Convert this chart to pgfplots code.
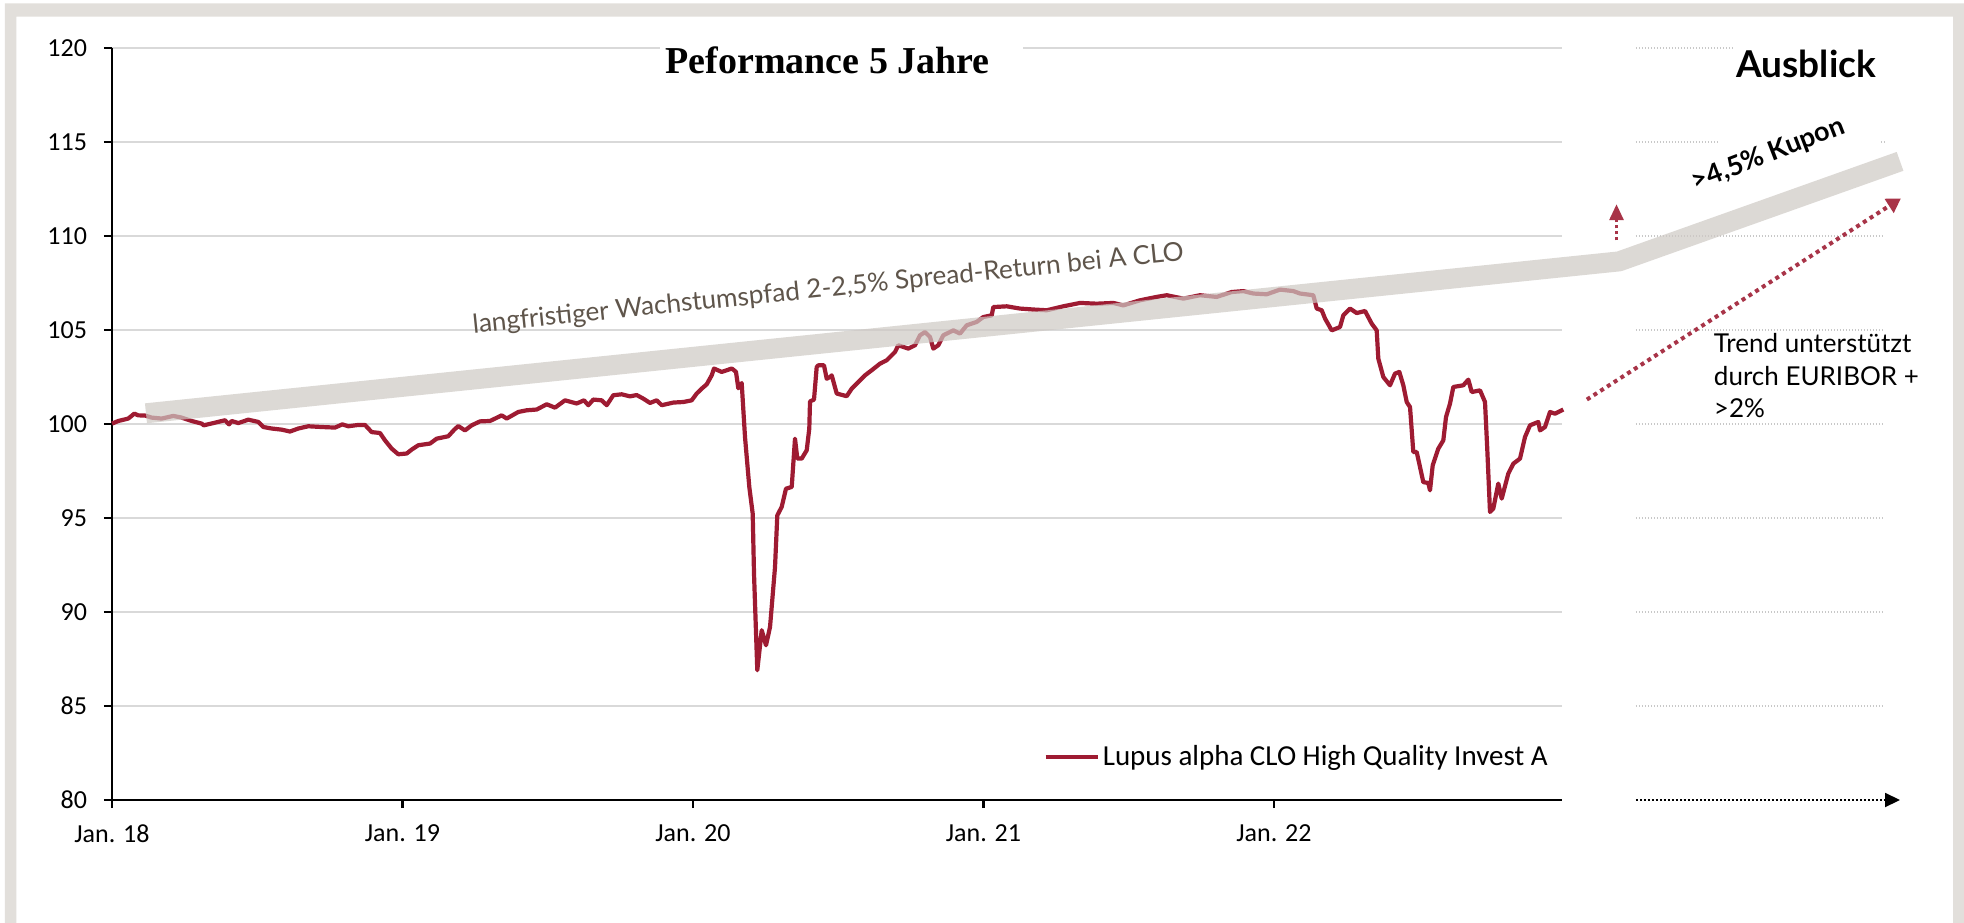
\documentclass[border=0pt]{standalone}
\usepackage{fontspec}
\setmainfont{Carlito}
\newfontfamily\titlefont{Liberation Serif}
\newfontfamily\optfont{Lato}
\usepackage{pgfplots}
\usepackage{pgfplotstable}
\pgfplotsset{compat=1.18}
\usetikzlibrary{arrows.meta}
\definecolor{lupusred}{RGB}{158,27,50}
\definecolor{arrred}{RGB}{168,52,72}
\definecolor{framegrey}{RGB}{226,223,219}
\definecolor{bandgrey}{RGB}{206,201,196}
\definecolor{gridgrey}{RGB}{217,217,217}
\definecolor{dotgrey}{RGB}{200,200,200}
\definecolor{bandtext}{RGB}{95,85,75}

\pgfplotstableread{
x y
0.0000 100.02
0.0217 100.16
0.0561 100.29
0.0768 100.55
0.0905 100.46
0.1136 100.45
0.1367 100.34
0.1711 100.29
0.2110 100.43
0.2399 100.34
0.2744 100.16
0.3088 100.02
0.3157 99.93
0.3546 100.07
0.3890 100.20
0.4028 99.98
0.4120 100.16
0.4348 100.05
0.4692 100.23
0.5036 100.11
0.5208 99.84
0.5497 99.76
0.5842 99.70
0.6127 99.60
0.6413 99.76
0.6757 99.88
0.7219 99.84
0.7676 99.81
0.7928 99.98
0.8134 99.88
0.8478 99.95
0.8709 99.95
0.8940 99.57
0.9225 99.52
0.9398 99.13
0.9628 98.69
0.9855 98.39
1.0145 98.43
1.0317 98.64
1.0544 98.87
1.0947 98.96
1.1177 99.22
1.1577 99.35
1.1783 99.70
1.1921 99.89
1.2151 99.66
1.2382 99.93
1.2668 100.14
1.3012 100.16
1.3415 100.46
1.3587 100.29
1.3986 100.64
1.4275 100.73
1.4620 100.77
1.4964 101.05
1.5250 100.87
1.5594 101.26
1.5997 101.09
1.6248 101.26
1.6396 101.00
1.6568 101.30
1.6857 101.26
1.7029 101.00
1.7256 101.53
1.7546 101.58
1.7831 101.47
1.8062 101.54
1.8289 101.35
1.8520 101.12
1.8750 101.26
1.8923 101.00
1.9322 101.14
1.9666 101.17
1.9955 101.26
2.0127 101.62
2.0299 101.88
2.0472 102.11
2.0644 102.59
2.0723 102.95
2.0988 102.77
2.1332 102.95
2.1387 102.89
2.1480 102.77
2.1559 101.90
2.1676 102.18
2.1790 99.31
2.1938 96.65
2.2055 95.23
2.2100 92.04
2.2213 86.90
2.2365 89.03
2.2513 88.23
2.2651 89.20
2.2823 92.39
2.2902 95.14
2.3053 95.59
2.3201 96.56
2.3398 96.65
2.3511 99.22
2.3591 98.16
2.3742 98.16
2.3914 98.60
2.4003 99.76
2.4028 101.20
2.4165 101.30
2.4258 103.03
2.4313 103.12
2.4509 103.12
2.4602 102.41
2.4716 102.50
2.4775 102.59
2.4947 101.62
2.5291 101.48
2.5463 101.88
2.5749 102.32
2.5921 102.59
2.6152 102.86
2.6437 103.21
2.6668 103.39
2.6954 103.83
2.7067 104.19
2.7411 104.01
2.7642 104.19
2.7814 104.72
2.7986 104.89
2.8158 104.63
2.8272 104.01
2.8444 104.19
2.8616 104.72
2.8961 104.98
2.9191 104.81
2.9422 105.25
2.9766 105.43
2.9993 105.69
3.0282 105.78
3.0338 106.22
3.0799 106.26
3.1256 106.14
3.1714 106.09
3.2175 106.05
3.2747 106.26
3.3322 106.44
3.3897 106.40
3.4468 106.44
3.4812 106.31
3.5387 106.58
3.5962 106.76
3.6306 106.85
3.6878 106.67
3.7453 106.85
3.8028 106.76
3.8544 107.02
3.8944 107.07
3.9288 106.94
3.9749 106.90
4.0207 107.15
4.0664 107.07
4.0895 106.94
4.1353 106.85
4.1470 106.14
4.1642 106.05
4.1756 105.61
4.1986 104.98
4.2272 105.16
4.2386 105.78
4.2616 106.14
4.2847 105.90
4.3133 106.01
4.3363 105.34
4.3535 104.98
4.3590 103.48
4.3763 102.50
4.3993 102.06
4.4165 102.68
4.4313 102.77
4.4451 102.06
4.4568 101.17
4.4682 100.90
4.4795 98.51
4.4912 98.51
4.5026 97.71
4.5139 96.91
4.5312 96.86
4.5370 96.47
4.5463 97.80
4.5656 98.69
4.5828 99.13
4.5921 100.37
4.6059 101.09
4.6172 101.97
4.6517 102.06
4.6689 102.36
4.6806 101.70
4.7091 101.79
4.7263 101.17
4.7343 98.60
4.7435 95.32
4.7549 95.50
4.7721 96.83
4.7838 96.03
4.8065 97.36
4.8238 97.89
4.8468 98.16
4.8640 99.31
4.8812 99.93
4.9098 100.11
4.9157 99.66
4.9329 99.84
4.9501 100.64
4.9673 100.55
4.9959 100.77
}\fund

\begin{document}
\begin{tikzpicture}
\useasboundingbox (-56pt,-61pt) rectangle (926pt,400pt);
\fill[white] (-56pt,-61pt) rectangle (926pt,400pt);
\fill[framegrey, even odd rule] (-53.5pt,-80pt) rectangle (940pt,398.35pt) (-47.75pt,-90pt) rectangle (920.5pt,391.65pt);
\begin{axis}[
  at={(0pt,0pt)}, anchor=south west,
  scale only axis, width=724.8pt, height=376pt,
  xmin=0, xmax=4.99, ymin=80, ymax=120,
  axis x line*=bottom, axis y line*=left,
  axis line style={black, line width=1.4pt},
  xtick={0,1,2,3,4}, xticklabels={Jan. 18, Jan. 19, Jan. 20, Jan. 21, Jan. 22},
  ytick={80,85,...,120},
  tick align=outside, major tick length=4pt,
  tick style={black, line width=1.2pt},
  ymajorgrids, grid style={gridgrey, line width=1pt},
  ticklabel style={font=\fontsize{13}{15}\selectfont},
  yticklabel style={xshift=-5pt},
  xticklabel style={yshift=-5pt},
  /pgf/number format/assume math mode=true,
  clip=false,
  legend style={at={(axis cs:4.954,82.29)}, anchor=east, draw=none, fill=none,
    inner sep=0pt, nodes={inner sep=1.5pt}, font=\fontsize{14.5}{16}\selectfont},
  legend image code/.code={\draw[#1, line width=2.2pt] (0pt,0pt) -- (26pt,0pt);},
]
% title box
\fill[white] (axis cs:1.886,119.5) rectangle (axis cs:3.136,120.5);
\node[anchor=base west, inner sep=0pt, font=\titlefont\bfseries\fontsize{19}{22}\selectfont] at (axis cs:1.9036,118.67) {Peformance 5 Jahre};
% dotted guide lines in outlook area
\draw[dotgrey, line width=0.75pt, dash pattern=on 0.75pt off 0.75pt] (axis cs:5.246,85) -- (axis cs:6.103,85);
\draw[dotgrey, line width=0.75pt, dash pattern=on 0.75pt off 0.75pt] (axis cs:5.246,90) -- (axis cs:6.103,90);
\draw[dotgrey, line width=0.75pt, dash pattern=on 0.75pt off 0.75pt] (axis cs:5.246,95) -- (axis cs:6.103,95);
\draw[dotgrey, line width=0.75pt, dash pattern=on 0.75pt off 0.75pt] (axis cs:5.246,100) -- (axis cs:6.103,100);
\draw[dotgrey, line width=0.75pt, dash pattern=on 0.75pt off 0.75pt] (axis cs:5.246,105) -- (axis cs:6.103,105);
\draw[dotgrey, line width=0.75pt, dash pattern=on 0.75pt off 0.75pt] (axis cs:5.246,110) -- (axis cs:6.103,110);
\draw[dotgrey, line width=0.75pt, dash pattern=on 0.75pt off 0.75pt] (axis cs:5.246,120) -- (axis cs:5.580,120);
\draw[dotgrey, line width=0.75pt, dash pattern=on 0.75pt off 0.75pt] (axis cs:5.246,115) -- (axis cs:5.525,115);
\draw[dotgrey, line width=0.75pt, dash pattern=on 0.75pt off 0.75pt] (axis cs:6.089,115) -- (axis cs:6.103,115);
\draw[black, line width=0.9pt, dash pattern=on 1pt off 1pt, -{Triangle[width=7pt,length=7.5pt]}] (axis cs:5.246,80) -- (axis cs:6.155,80);

\addplot[lupusred, line width=2.1pt, line join=round] table[x=x,y=y] {\fund};
\addlegendentry{Lupus alpha CLO High Quality Invest A}

% growth band
\draw[bandgrey, opacity=0.7, line width=10pt, line join=bevel] (axis cs:0.117,100.57) -- (axis cs:5.188,108.65) -- (axis cs:6.155,113.97);
\node[rotate=5.87, anchor=base, inner sep=0pt, font=\optfont\fontsize{13.1}{15}\selectfont, text=bandtext] at (axis cs:2.468,106.77) {langfristiger Wachstumspfad 2-2,5\% Spread-Return bei A CLO};

% outlook
\node[anchor=base west, inner sep=0pt, font=\optfont\bfseries\fontsize{18.5}{21}\selectfont] at (axis cs:5.590,118.44) {Ausblick};
\node[rotate=21, anchor=base, inner sep=0pt, font=\optfont\bfseries\fontsize{13.5}{16}\selectfont] at (axis cs:5.711,113.95) {>4,5\% Kupon};
\draw[arrred, line width=1.5pt, dash pattern=on 1.5pt off 1.5pt, -{Triangle[width=7pt,length=8pt]}] (axis cs:5.179,109.77) -- (axis cs:5.179,111.69);
\draw[arrred, line width=2pt, dash pattern=on 2pt off 2pt, -{Triangle[width=8pt,length=7pt]}] (axis cs:5.077,101.30) -- (axis cs:6.158,112.0);
\node[anchor=base west, inner sep=0pt, font=\optfont\fontsize{13}{16}\selectfont] at (axis cs:5.513,103.78) {Trend unterstützt};
\node[anchor=base west, inner sep=0pt, font=\optfont\fontsize{13}{16}\selectfont] at (axis cs:5.513,102.06) {durch EURIBOR +};
\node[anchor=base west, inner sep=0pt, font=\optfont\fontsize{13}{16}\selectfont] at (axis cs:5.513,100.37) {>2\%};
\end{axis}
\end{tikzpicture}
\end{document}
